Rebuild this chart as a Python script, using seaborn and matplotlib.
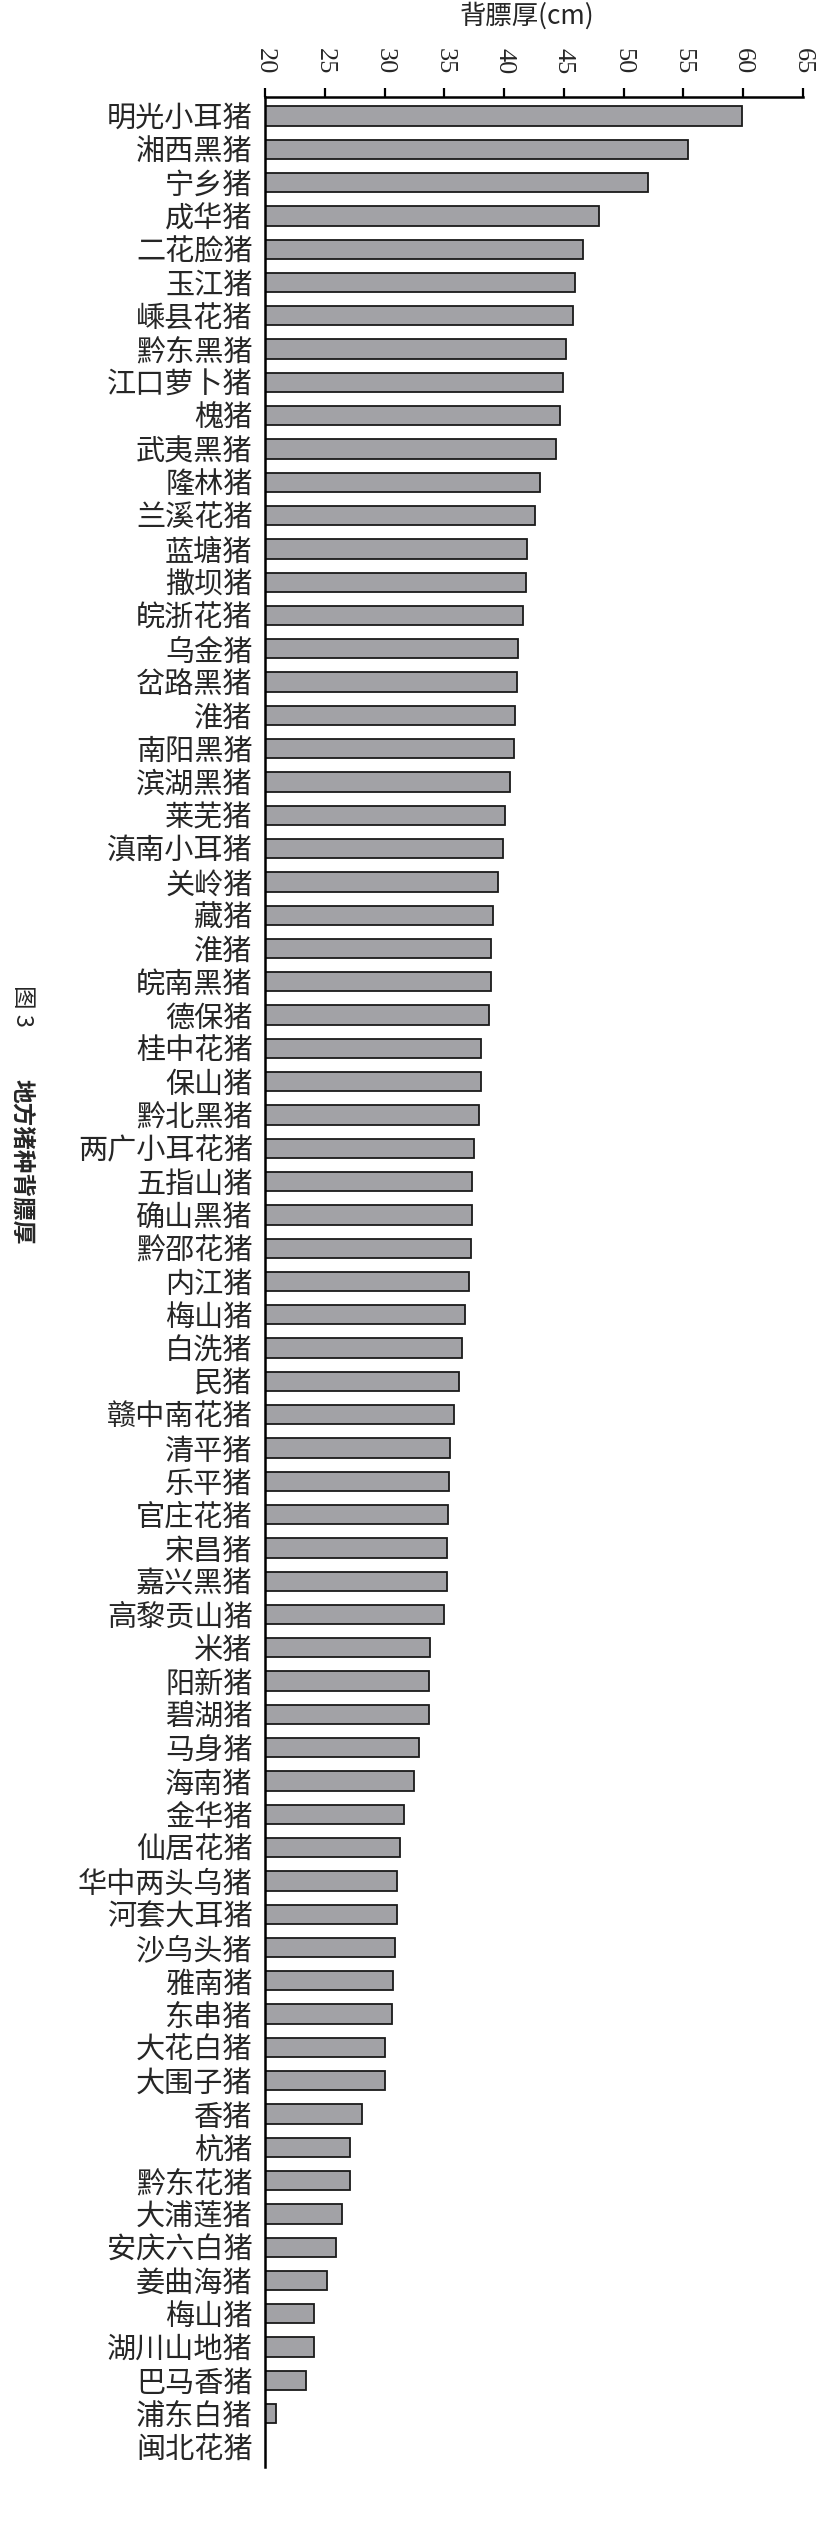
import numpy as np
import pandas as pd
import matplotlib
matplotlib.use('Agg')
import matplotlib.pyplot as plt
import seaborn as sns

breeds = ['明光小耳猪', '湘西黑猪', '宁乡猪', '成华猪', '二花脸猪', '玉江猪', '嵊县花猪', '黔东黑猪',
          '江口萝卜猪', '槐猪', '武夷黑猪', '隆林猪', '兰溪花猪', '蓝塘猪', '撒坝猪', '皖浙花猪',
          '乌金猪', '岔路黑猪', '淮猪', '南阳黑猪', '滨湖黑猪', '莱芜猪', '滇南小耳猪', '关岭猪',
          '藏猪', '淮猪', '皖南黑猪', '德保猪', '桂中花猪', '保山猪', '黔北黑猪', '两广小耳花猪',
          '五指山猪', '确山黑猪', '黔邵花猪', '内江猪', '梅山猪', '白洗猪', '民猪', '赣中南花猪',
          '清平猪', '乐平猪', '官庄花猪', '宋昌猪', '嘉兴黑猪', '高黎贡山猪', '米猪', '阳新猪',
          '碧湖猪', '马身猪', '海南猪', '金华猪', '仙居花猪', '华中两头乌猪', '河套大耳猪', '沙乌头猪',
          '雅南猪', '东串猪', '大花白猪', '大围子猪', '香猪', '杭猪', '黔东花猪', '大浦莲猪',
          '安庆六白猪', '姜曲海猪', '梅山猪', '湖川山地猪', '巴马香猪', '浦东白猪', '闽北花猪']

# backfat thickness (cm); the last breed (闽北花猪) shows no bar
backfat = [59.9, 55.4, 52.0, 47.9, 46.6, 45.9, 45.8, 45.2,
           44.9, 44.7, 44.3, 43.0, 42.6, 41.9, 41.8, 41.6,
           41.2, 41.1, 40.9, 40.8, 40.5, 40.1, 39.9, 39.5,
           39.1, 38.9, 38.9, 38.7, 38.1, 38.1, 37.9, 37.5,
           37.3, 37.3, 37.2, 37.1, 36.7, 36.5, 36.2, 35.8,
           35.5, 35.4, 35.3, 35.2, 35.2, 35.0, 33.8, 33.7,
           33.7, 32.9, 32.5, 31.6, 31.3, 31.0, 31.0, 30.9,
           30.7, 30.6, 30.0, 30.0, 28.1, 27.1, 27.1, 26.4,
           25.9, 25.2, 24.1, 24.1, 23.4, 20.9]

x_ticks = [20, 25, 30, 35, 40, 45, 50, 55, 60, 65]

sns.set_style('ticks')
plt.rcParams['font.family'] = ['Noto Sans CJK SC', 'DejaVu Sans']

W, H = 816, 2527
fig = plt.figure(figsize=(W / 100, H / 100), dpi=100)
ax = fig.add_axes([265 / W, 1 - 2467 / H, (803 - 265) / W, (2467 - 97) / H])

df = pd.DataFrame({'pos': list(range(len(backfat))), 'val': backfat})
sns.barplot(data=df, x='val', y='pos', orient='h', order=list(range(len(breeds))),
            color='#a2a2a6', saturation=1, width=0.58, edgecolor='#1a1a1a',
            linewidth=1.3, ax=ax)

ax.set_xlim(20, 65)
ax.set_ylim(len(breeds) - 1 + 0.6, -0.57)
ax.xaxis.tick_top()
ax.set_xticks(x_ticks, labels=[str(t) for t in x_ticks], fontfamily='Liberation Serif',
              fontsize=19, rotation=-90)
ax.tick_params(axis='x', which='major', direction='out', length=6.5, width=1.6,
               color='black', pad=10, top=True, bottom=False, labeltop=True, labelbottom=False)
ax.set_yticks(range(len(breeds)), labels=breeds, fontsize=21)
ax.tick_params(axis='y', length=0, pad=9)
ax.set_xlabel('')
ax.set_ylabel('')
for s in ['right', 'bottom']:
    ax.spines[s].set_visible(False)
for s in ['top', 'left']:
    ax.spines[s].set_linewidth(1.8)
    ax.spines[s].set_color('black')

fig.text(527 / W, 1 - 16 / H, '背膘厚(cm)', ha='center', va='center', fontsize=19)
fig.text(22 / W, 1 - 1006 / H, '图 3', ha='center', va='center', rotation=-90, fontsize=17)
fig.text(22 / W, 1 - 1162 / H, '地方猪种背膘厚', ha='center', va='center', rotation=-90,
         fontsize=17, fontweight='bold')

fig.savefig('out.png', dpi=100)
